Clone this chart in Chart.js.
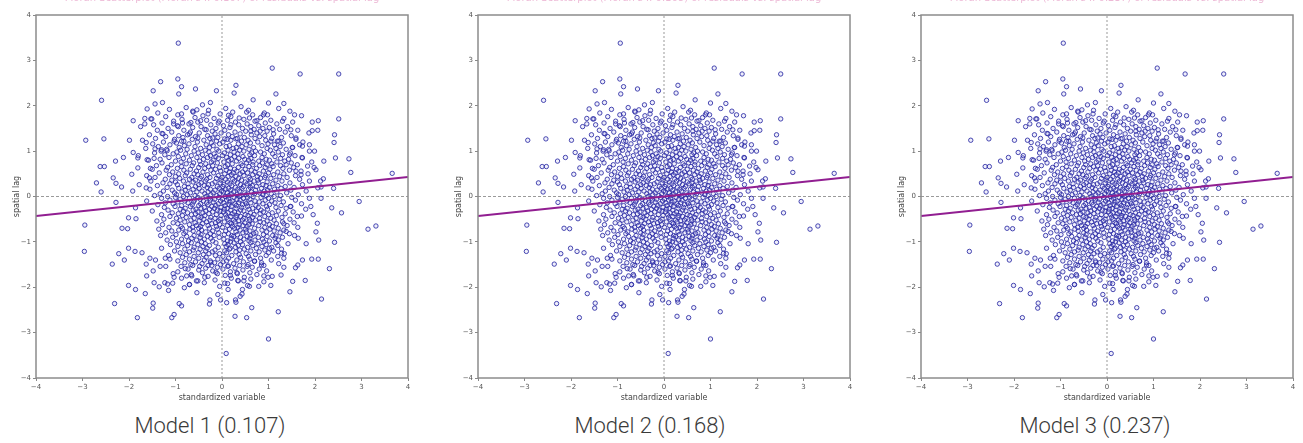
<!DOCTYPE html>
<html>
<head>
<meta charset="utf-8">
<script src="https://cdn.jsdelivr.net/npm/chart.js@4.4.1/dist/chart.umd.min.js"></script>
<style>
  body { margin: 0; background: #fff; width: 1303px; height: 443px; overflow: hidden; position: relative; }
  .panel { position: absolute; top: 0; width: 420px; height: 408px; }
  .label { position: absolute; top: 413px; width: 350px; text-align: center;
           font-family: Roboto, "Open Sans", sans-serif; font-weight: 300; font-size: 22px; color: #3a3a3a; }
</style>
</head>
<body>
<div class="panel" style="left:0px"><canvas id="m1" width="420" height="408"></canvas></div>
<div class="panel" style="left:442px"><canvas id="m2" width="420" height="408"></canvas></div>
<div class="panel" style="left:885px"><canvas id="m3" width="420" height="408"></canvas></div>
<div class="label" style="left:35px">Model 1 (0.107)</div>
<div class="label" style="left:475px">Model 2 (0.168)</div>
<div class="label" style="left:920px">Model 3 (0.237)</div>
<script>
// model names and Moran's I
const models = ["Model 1", "Model 2", "Model 3"];
const moranI = [0.107, 0.168, 0.237];
// fitted line, spatial lag at x = -4 and x = 4
const fitX = [-4, 4];
const fitY = [[-0.43, 0.43], [-0.43, 0.43], [-0.43, 0.43]];
const axisTicks = [-4, -3, -2, -1, 0, 1, 2, 3, 4];

// scattered points outside the dense core [standardized variable, spatial lag]
const outerPoints = [
  [-0.94,3.38],[1.08,2.83],[1.68,2.70],[2.51,2.70],[-2.59,2.12],[-1.32,2.53],[-0.95,2.59],[-0.87,2.42],
  [-0.57,2.37],[-1.48,2.33],[-0.93,2.26],[0.30,2.45],[-0.12,2.33],[0.26,2.28],[1.16,2.26],[1.33,2.05],
  [0.67,2.13],[1.00,2.06],[-1.28,2.07],[-1.44,2.04],[-0.42,2.02],[-0.25,2.07],[-1.61,1.93],[-1.91,1.67],
  [-1.53,1.71],[-0.87,1.82],[2.51,1.71],[1.56,1.80],[1.94,1.64],[2.07,1.67],[-2.93,1.24],[-2.54,1.27],
  [-1.99,1.24],[-1.29,1.39],[2.42,1.36],[2.41,1.19],[2.73,0.83],[2.44,0.85],[2.77,0.53],[3.66,0.51],
  [-2.70,0.30],[-2.62,0.66],[-2.53,0.66],[-2.29,0.78],[-2.34,0.41],[-2.12,0.86],[-1.91,0.97],[-1.94,0.49],
  [-2.28,0.29],[-2.16,0.21],[-2.60,0.10],[2.18,0.39],[2.13,0.21],[2.40,0.18],[2.19,0.78],[2.02,0.59],
  [1.99,1.00],[1.94,1.45],[2.06,1.46],[-1.51,1.71],[-1.66,1.60],[-1.63,1.19],[-1.44,1.05],[-1.30,1.03],
  [-1.18,1.01],[-1.04,1.60],[-0.94,1.54],[-0.85,1.62],[-0.67,1.63],[-0.63,1.88],[-0.54,1.91],[-0.46,1.67],
  [-0.30,1.82],[-0.06,1.66],[0.14,1.79],[0.19,1.58],[0.37,1.73],[0.53,1.86],[0.59,1.73],[0.75,1.67],
  [0.89,1.80],[0.98,1.80],[1.10,1.47],[1.30,1.66],[1.48,1.47],[1.59,1.29],[1.73,1.11],[1.88,1.14],
  [1.52,1.08],[1.22,1.22],[1.05,1.22],[0.82,1.44],[0.62,1.44],[0.30,1.27],[0.06,1.27],[-0.20,1.29],
  [-0.34,1.47],[-0.52,1.29],[-0.70,1.38],[-0.82,1.22],[-1.03,1.22],[-1.46,0.84],[-1.61,0.81],[-1.81,0.85],
  [-1.81,0.63],[-1.54,0.62],[-1.56,0.41],[-1.78,0.26],[-1.63,0.19],[-1.92,0.12],[1.73,0.85],[1.84,0.67],
  [1.70,0.48],[1.88,0.34],[2.06,0.19],[1.59,0.56],[1.45,0.92],[1.38,0.70],
  [0.09,-3.46],[1.00,-3.14],[1.21,-2.54],[2.14,-2.26],[-1.82,-2.67],[-2.31,-2.36],[-1.48,-2.35],[-1.49,-2.46],
  [-1.08,-2.67],[-1.03,-2.60],[-0.92,-2.36],[-0.87,-2.41],[-0.26,-2.28],[-0.27,-2.37],[-0.03,-2.28],[0.10,-2.34],
  [0.29,-2.28],[0.28,-2.64],[0.53,-2.67],[0.64,-2.45],[0.30,-2.33],[-0.09,-2.16],[-0.54,-2.12],[-1.65,-2.14],
  [-1.86,-2.05],[-2.01,-1.96],[-2.36,-1.49],[-2.96,-1.21],[-2.95,-0.63],[3.14,-0.72],[3.31,-0.65],[2.95,-0.11],
  [2.57,-0.36],[2.36,-0.25],[2.42,-1.01],[2.31,-1.59],[2.07,-1.38],[2.08,-0.96],[2.05,-0.59],[2.02,-0.78],
  [1.96,-0.40],[1.93,-1.38],[1.81,-1.04],[1.73,-1.40],[1.63,-1.51],[1.58,-1.57],[1.52,-1.87],[1.46,-2.10],
  [1.79,-1.85],[1.27,-1.73],[0.99,-1.78],[0.90,-1.75],[1.05,-1.96],[0.79,-1.98],[0.44,-2.05],[0.43,-2.15],
  [0.39,-2.20],[0.13,-2.05],[0.06,-1.91],[0.34,-1.85],[0.47,-1.86],[0.59,-1.98],[-0.13,-1.67],[0.18,-1.74],
  [-0.37,-1.78],[-0.65,-1.75],[-0.76,-1.75],[-0.81,-2.01],[-0.70,-1.94],[-0.52,-1.86],[-1.05,-1.70],[-1.03,-1.78],
  [-1.06,-1.91],[-1.17,-1.93],[-1.35,-1.99],[-1.23,-1.90],[-1.46,-1.90],[-1.15,-2.07],[-1.62,-1.75],[-1.48,-1.64],
  [-1.63,-1.49],[-2.10,-1.40],[-2.22,-1.26],[-2.01,-1.14],[-1.87,-1.21],[-1.72,-1.24],[-1.55,-1.36],[-1.43,-1.40],
  [-1.33,-1.54],[-1.21,-1.54],[-1.12,-1.38],[-0.79,-1.59],[-0.63,-1.52],[-0.30,-1.52],[-0.24,-1.45],[0.14,-1.53],
  [0.32,-1.68],[0.54,-1.54],[0.70,-1.43],[0.85,-1.51],[1.02,-1.14],[1.16,-0.87],[1.28,-1.25],[1.33,-1.36],
  [1.56,-0.86],[1.64,-0.92],[1.71,-0.43],[1.33,-0.60],[1.38,-0.77],[1.48,-0.22],[1.91,-0.22],[2.13,-0.04],
  [-2.03,-0.71],[-2.15,-0.70],[-2.01,-0.47],[-1.85,-0.49],[-1.86,-0.25],[-2.28,-0.13]
];

// dense core: one row per spatial lag value, with the standardized variable of each point
const coreRows = [
  [1.98,[0.41]],[1.96,[-0.77]],[1.94,[0.08,1.22]],[1.92,[-1.13]],[1.90,[0.57,-0.29]],[1.88,[1.46]],
  [1.86,[-0.62,0.23]],[1.84,[-1.38,0.91]],[1.82,[-0.04]],[1.80,[0.66,-0.95]],[1.78,[-0.41,1.71]],
  [1.76,[0.19,-1.21]],[1.74,[0.83,-0.58]],[1.72,[-0.17,1.33,-1.66]],[1.70,[0.47,-0.86]],
  [1.68,[-0.33,1.05,0.12]],[1.66,[-1.04,0.71]],[1.64,[0.29,-0.52,1.52]],[1.62,[-1.29,-0.08,0.93]],
  [1.60,[0.54,-0.71,1.18]],[1.58,[-0.24,0.36,-1.47]],[1.56,[0.79,-0.96,0.03]],[1.54,[-0.45,1.41,0.62,-1.75]],
  [1.52,[0.17,-0.63,1.02]],[1.50,[-1.16,0.44,-0.13,0.88]],[1.48,[-0.37,1.24,0.69]],
  [1.46,[0.06,-0.82,1.63,-1.39]],[1.44,[0.51,-0.21,0.97]],[1.42,[-0.68,0.28,1.36,-1.08]],
  [1.40,[-0.02,0.75,-0.49,1.87]],[1.38,[-1.27,0.39,1.11,-0.15]],[1.36,[0.63,-0.74,0.14,-1.56]],
  [1.34,[-0.31,0.92,1.49,-0.93]],[1.32,[0.22,-0.57,0.81,-1.21]],[1.30,[1.28,-0.09,0.48,-0.84]],
  [1.28,[-1.43,0.33,-0.26,1.07,0.71]],[1.26,[-0.64,0.11,1.59,-1.02]],[1.24,[0.56,-0.39,0.94,-1.71,0.19]],
  [1.22,[-0.12,1.19,-0.87,0.42]],[1.20,[0.77,-0.53,1.74,-1.26,0.02]],[1.18,[-0.23,0.61,-0.98,1.32]],
  [1.16,[0.35,-0.71,0.99,-1.49,-0.05]],[1.14,[1.13,-0.34,0.52,-1.12,1.67]],[1.12,[-0.81,0.16,0.86,-0.19]],
  [1.10,[0.43,-1.37,1.25,-0.58,0.09]],[1.08,[-0.27,0.68,-0.92,1.51,0.31]],[1.06,[0.97,-0.46,0.24,-1.64,1.16]],
  [1.04,[-0.11,0.58,-0.75,1.38,-1.19]],[1.02,[0.38,-0.36,1.04,0.13,-0.89]],[1.00,[-1.31,0.72,-0.07,1.88,0.47,-0.6]],
  [0.98,[0.26,-0.97,1.21,-0.28,0.83]],[0.96,[-0.51,0.05,1.47,-1.45,0.64]],[0.94,[0.91,-0.17,0.34,-0.78,1.09,-1.05]],
  [0.92,[-0.42,1.3,0.18,-1.23,0.6]],[0.90,[0.7,-0.66,0.01,1.57,-0.25,-1.8]],[0.88,[-0.94,0.45,1.14,-0.13,0.27]],
  [0.86,[0.86,-0.54,1.72,-1.14,0.1,-0.31]],[0.84,[-0.08,0.62,-0.83,1.26,0.36]],[0.82,[0.49,-1.33,0.95,-0.4,0.2,1.43]],
  [0.80,[-0.7,0.14,-0.19,1.02,-1.58,0.57]],[0.78,[0.31,1.35,-0.48,0.79,-1.0]],[0.76,[-0.23,0.67,-0.88,1.18,0.04,1.93]],
  [0.74,[0.53,-0.61,1.49,-0.1,-1.29,0.87]],[0.72,[-0.35,0.22,1.07,-0.77,0.41]],[0.70,[0.97,-1.09,0.12,-0.46,1.62,0.66]],
  [0.68,[-0.2,0.44,-1.41,0.81,1.26,-0.64]],[0.66,[0.07,-0.87,1.1,0.58,-0.29]],[0.64,[-1.17,0.35,1.54,-0.5,0.93,-0.05,1.98]],
  [0.62,[0.74,-0.37,0.18,-0.96,1.31]],[0.60,[-0.14,1.03,-0.68,0.5,-1.5,0.27]],[0.58,[0.63,-0.24,1.45,-0.82,0.09,-1.2]],
  [0.56,[-0.55,0.32,0.89,1.7,-0.03]],[0.54,[0.16,-1.06,0.71,-0.41,1.2,0.44]],[0.52,[-0.76,1.0,-0.18,0.55,-1.35,0.24]],
  [0.50,[0.39,-0.6,1.33,0.06,-0.93,0.8,1.85]],[0.48,[-0.31,0.66,-1.13,0.2,1.11,-0.52]],[0.46,[0.94,-0.08,0.47,-0.79,1.58,-1.62]],
  [0.44,[-0.44,0.13,0.76,-1.0,1.24,0.3]],[0.42,[0.58,-0.26,1.4,-0.65,0.0,-1.44,0.92]],[0.40,[-0.12,0.83,-0.91,0.36,1.05,-0.47]],
  [0.38,[0.23,-1.22,0.61,-0.33,1.67,0.08,-0.7]],[0.36,[1.16,-0.57,0.42,-0.02,-1.08,0.77]],
  [0.34,[-0.83,0.27,1.29,-0.36,0.69,2.12,-1.53]],[0.32,[0.5,-0.15,0.97,-0.62,0.12,-1.0]],
  [0.30,[-0.45,0.79,1.46,-1.27,0.33,-0.04,0.6]],[0.28,[0.17,-0.73,1.09,-0.21,0.54,-1.12]],
  [0.26,[-0.96,0.88,0.04,1.73,-0.5,0.4,-0.29]],[0.24,[0.65,-0.38,1.2,-1.39,0.21,0.95]],
  [0.22,[-0.1,0.46,-0.81,1.36,-0.57,0.02,0.74]],[0.20,[1.02,-1.18,0.29,-0.32,0.61,-0.72,1.55]],
  [0.18,[-0.49,0.14,0.85,-0.06,-0.93,0.43,1.27]],[0.16,[0.57,-0.25,1.13,-1.55,0.08,-0.62,0.34]],
  [0.14,[-0.79,0.72,0.19,1.48,-0.15,-1.07,0.98]],[0.12,[0.38,-0.43,0.91,-0.01,1.81,-1.26]],
  [0.10,[-0.3,0.63,-0.86,0.25,1.18,-0.54,0.03]],[0.08,[0.81,-1.02,0.49,-0.19,1.39,0.11,-0.68]],
  [0.06,[-0.37,0.2,1.06,-1.33,0.7,-0.05]],[0.04,[0.52,-0.75,0.32,-0.24,1.64,-0.98,0.88]],
  [0.02,[-0.11,0.95,-0.58,0.41,1.26,-1.45,0.15]],[0.00,[0.67,-0.34,0.07,-0.83,1.12,0.37,-1.17]],
  [-0.02,[-0.52,0.26,0.84,-0.07,1.5,-1.0,0.55]],[-0.04,[0.14,-0.7,1.0,-0.28,0.46,-1.3,1.88]],
  [-0.06,[-0.9,0.6,-0.16,0.32,1.23,-0.47,0.01]],[-0.08,[0.39,-0.59,0.93,-1.12,0.1,1.58,-0.25]],
  [-0.10,[-0.03,0.71,-0.8,0.22,-0.4,1.07,-1.62]],[-0.12,[0.5,-0.19,1.32,-0.95,0.17,-0.61,0.8]],
  [-0.14,[-0.33,0.04,0.62,-1.22,1.14,-0.73,0.36]],[-0.16,[0.88,-0.46,0.28,-0.08,1.71,-1.05,0.52]],
  [-0.18,[-0.64,0.15,1.02,-0.3,0.44,-1.38]],[-0.20,[0.31,-0.87,0.73,-0.13,1.27,-0.5,0.07]],
  [-0.22,[-0.22,0.55,-1.01,0.96,0.2,-0.68,1.47]],[-0.24,[0.42,-0.38,1.16,-0.02,-1.24,0.78]],
  [-0.26,[-0.79,0.11,0.66,-0.45,1.38,-0.16,0.3]],[-0.28,[0.58,-0.27,0.98,-0.9,0.05,1.8,-0.56]],
  [-0.30,[-0.1,0.4,-1.16,0.84,-0.62,0.19]],[-0.32,[0.74,-0.35,1.21,-0.04,-0.83,0.47,-1.5]],
  [-0.34,[-0.52,0.27,0.89,-0.2,1.53,0.03]],[-0.36,[0.13,-0.74,0.61,-1.07,0.35,1.08,-0.41]],
  [-0.38,[-0.28,0.82,-0.57,0.22,1.36,-0.94]],[-0.40,[0.5,-0.12,1.0,-1.3,0.08,-0.66,0.69]],
  [-0.42,[-0.85,0.32,-0.37,1.17,0.56,-0.02]],[-0.44,[0.19,-0.5,0.92,-1.12,0.4,1.62]],
  [-0.46,[-0.24,0.66,-0.77,0.1,1.29,-0.45,0.3]],[-0.48,[0.47,-0.98,0.81,-0.15,-0.6,1.05]],
  [-0.50,[-0.39,0.13,0.59,-1.25,1.46,-0.04]],[-0.52,[0.72,-0.67,0.25,-0.26,1.12,-0.9,0.44]],
  [-0.54,[-0.08,0.97,-0.49,0.36,-1.4,0.6]],[-0.56,[0.28,-0.33,1.3,-0.8,0.05,0.82]],
  [-0.58,[-0.58,0.49,-0.14,0.9,-1.05,1.55,0.17]],[-0.60,[0.65,-0.42,0.2,-0.95,1.17,-0.22]],
  [-0.62,[-0.7,0.37,1.02,-0.05,-1.28,0.58]],[-0.64,[0.12,-0.55,0.79,-0.3,1.4,0.45]],
  [-0.66,[-0.88,0.54,-0.12,1.08,-0.46,0.23]],[-0.68,[0.34,-0.63,0.92,-1.14,0.01,1.63]],
  [-0.70,[-0.27,0.7,-0.85,0.27,-0.5,1.21]],[-0.72,[0.51,-0.1,1.03,-1.36,0.16,-0.69]],
  [-0.74,[-0.44,0.39,-0.93,0.86,1.33]],[-0.76,[0.08,-0.62,0.6,-0.2,1.12,-1.08]],
  [-0.78,[-0.78,0.3,0.96,-0.35,0.52]],[-0.80,[0.45,-0.5,1.25,-0.07,-1.21,0.73]],
  [-0.82,[-0.25,0.68,-0.82,0.14,1.45]],[-0.84,[0.33,-0.99,0.89,-0.45,0.05]],
  [-0.86,[-0.6,0.21,1.09,-0.17,0.62,-1.32]],[-0.88,[0.54,-0.31,0.97,-0.76,0.25]],
  [-0.90,[-0.06,0.78,-1.06,0.4,-0.47,1.3]],[-0.92,[0.2,-0.65,1.14,-0.24,0.6]],
  [-0.94,[-0.87,0.47,-0.38,0.87,0.04]],[-0.96,[0.31,-0.55,1.21,-1.18,0.71]],
  [-0.98,[-0.2,0.58,-0.72,0.12,1.02]],[-1.00,[0.4,-0.44,0.9,-0.98,0.18]],
  [-1.02,[-0.66,0.26,1.16,-0.13,0.62]],[-1.04,[0.06,-0.85,0.77,-0.36,1.42]],
  [-1.06,[-0.52,0.44,-1.11,0.95,0.13]],[-1.08,[0.35,-0.27,0.66,-0.74,1.2]],
  [-1.10,[-0.95,0.09,0.86,-0.41]],[-1.12,[0.55,-0.6,1.07,-0.08,0.29]],[-1.14,[-0.32,0.74,-1.3,0.18]],
  [-1.16,[0.16,-0.8,0.48,1.28,-0.47]],[-1.18,[-0.15,0.92,-0.62,0.38]],[-1.20,[0.62,-0.35,0.06,-1.02,1.11]],
  [-1.22,[-0.7,0.3,0.8,-0.21]],[-1.24,[0.1,-0.51,1.0,-0.9]],[-1.26,[-0.28,0.52,-0.05,1.34]],
  [-1.28,[0.37,-0.77,0.72,-0.4]],[-1.30,[-1.15,0.21,-0.14,0.95]],[-1.32,[0.57,-0.6,0.02,1.2]],
  [-1.34,[-0.34,0.4,-0.85]],[-1.36,[0.14,0.83,-0.5,-1.22]],[-1.38,[-0.09,0.6,-0.7]],[-1.40,[0.32,-0.38,1.06]],
  [-1.42,[-0.95,0.1,0.7,-0.25]],[-1.44,[0.46,-0.57,0.02]],[-1.46,[-0.16,0.85,-0.8]],[-1.48,[0.25,-0.43,1.22]],
  [-1.50,[-0.67,0.56,-0.03]],[-1.52,[0.38,-0.22,0.9]],[-1.54,[-0.88,0.12,-0.48]],[-1.56,[0.65,-0.1,1.33]],
  [-1.58,[-0.35,0.28]],[-1.60,[0.02,-0.73,0.8]],[-1.62,[0.45,-0.5]],[-1.64,[-0.2,0.96]],[-1.66,[0.18,-0.95]],
  [-1.68,[-0.42,0.6]],[-1.70,[0.33,-0.1]],[-1.72,[-0.66,0.75]],[-1.74,[0.07]],[-1.76,[-0.3,1.08]],
  [-1.78,[0.48]],[-1.80,[-0.87,0.2]],[-1.82,[0.62]],[-1.84,[-0.15]],[-1.86,[0.35,-0.55]],[-1.88,[0.9]],
  [-1.90,[-0.38]],[-1.92,[0.12]],[-1.94,[-0.7]],[-1.96,[0.55]],[-1.98,[-0.05]]
];

const points = outerPoints.map(p => ({ x: p[0], y: p[1] }));
coreRows.forEach(r => r[1].forEach(x => points.push({ x: x, y: r[0] })));

const minus = v => String(v).replace('-', '\u2212');

const frame = {
  id: 'frame',
  afterDatasetsDraw(chart, args, opts) {
    const a = chart.chartArea, ctx = chart.ctx;
    ctx.save();
    ctx.strokeStyle = '#8c8c8c';
    ctx.lineWidth = 1.5;
    ctx.strokeRect(a.left, a.top, a.right - a.left, a.bottom - a.top);
    // top title, mostly cut off by the image edge
    ctx.fillStyle = 'rgba(214,100,165,0.45)';
    ctx.font = '10px "DejaVu Sans", sans-serif';
    ctx.textAlign = 'center';
    ctx.textBaseline = 'middle';
    ctx.fillText(opts.text, (a.left + a.right) / 2, -1.5);
    ctx.restore();
  }
};

function axis(title, isX) {
  return {
    type: 'linear', min: -4, max: 4,
    afterBuildTicks: s => { s.ticks = axisTicks.map(v => ({ value: v })); },
    afterFit: s => { if (isX) s.height = 30; else s.width = 36; },
    border: { display: false },
    grid: { drawOnChartArea: false, drawTicks: true, tickLength: 3, color: '#888' },
    ticks: { color: '#555', font: { size: 7, family: 'DejaVu Sans' }, padding: 2, callback: v => minus(v) },
    title: { display: true, text: title, color: '#444', font: { size: 8, family: 'DejaVu Sans' },
             padding: isX ? { top: 0, bottom: 5 } : { top: 12, bottom: 0 } }
  };
}

models.forEach((m, i) => {
  new Chart(document.getElementById('m' + (i + 1)), {
    type: 'scatter',
    data: {
      datasets: [
        { data: fitX.map((x, k) => ({ x: x, y: fitY[i][k] })), showLine: true, pointRadius: 0,
          borderColor: 'rgb(145,30,145)', borderWidth: 2, order: 0 },
        { data: points, pointRadius: 2.2, pointBorderWidth: 1, showLine: false,
          pointBorderColor: 'rgba(42,42,165,0.85)', pointBackgroundColor: 'rgba(120,120,220,0.12)', order: 1 },
        { data: [{ x: 0, y: -4 }, { x: 0, y: 4 }], showLine: true, pointRadius: 0,
          borderColor: '#9a9a9a', borderWidth: 1, borderDash: [2, 2], order: 2 },
        { data: [{ x: -4, y: 0 }, { x: 4, y: 0 }], showLine: true, pointRadius: 0,
          borderColor: '#9a9a9a', borderWidth: 1, borderDash: [3, 2], order: 2 }
      ]
    },
    options: {
      responsive: false, animation: false,
      layout: { padding: { top: 15, right: 12, bottom: 0, left: 0 } },
      plugins: { legend: { display: false }, tooltip: { enabled: false },
                 frame: { text: "Moran Scatterplot (Moran's I: " + moranI[i] + ") of residuals vs. spatial lag" } },
      scales: { x: axis('standardized variable', true), y: axis('spatial lag', false) }
    },
    plugins: [frame]
  });
});
</script>
</body>
</html>
